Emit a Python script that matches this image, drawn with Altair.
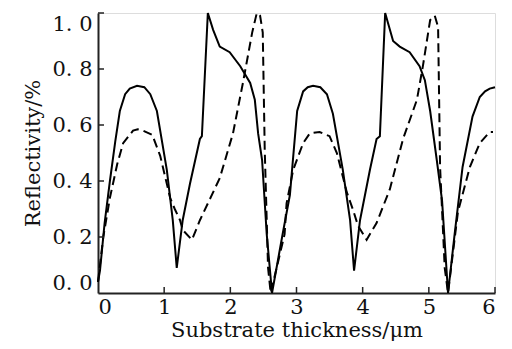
import altair as alt
import pandas as pd

# Solid curve
solid_t = [0.00, 0.03, 0.10, 0.18, 0.26, 0.33, 0.41, 0.48, 0.59, 0.70, 0.79, 0.89, 1.04, 1.13, 1.19,
           1.28, 1.39, 1.54, 1.57, 1.66, 1.74, 1.84, 1.99, 2.15, 2.30, 2.37, 2.42, 2.48, 2.55, 2.63,
           2.79, 2.90, 3.01, 3.10, 3.17, 3.25, 3.36, 3.46, 3.55, 3.70, 3.81, 3.87,
           3.96, 4.11, 4.21, 4.26, 4.34, 4.46, 4.56, 4.71, 4.86, 4.94, 5.02, 5.12, 5.20, 5.29,
           5.39, 5.51, 5.66, 5.77, 5.85, 5.92, 6.00]
solid_r = [0.04, 0.08, 0.25, 0.40, 0.54, 0.65, 0.71, 0.73, 0.74, 0.735, 0.71, 0.65, 0.44, 0.26, 0.09,
           0.26, 0.39, 0.55, 0.56, 1.00, 0.94, 0.88, 0.86, 0.81, 0.75, 0.69, 0.57, 0.475, 0.21, 0.00,
           0.21, 0.35, 0.65, 0.72, 0.735, 0.74, 0.735, 0.71, 0.64, 0.44, 0.26, 0.08,
           0.26, 0.44, 0.55, 0.56, 1.00, 0.90, 0.88, 0.86, 0.81, 0.76, 0.65, 0.475, 0.33, 0.00,
           0.21, 0.45, 0.63, 0.70, 0.72, 0.73, 0.735]

# Dashed curve
dash_t = [0.00, 0.03, 0.08, 0.18, 0.29, 0.38, 0.53, 0.60, 0.68, 0.82, 0.94, 1.09, 1.16, 1.24, 1.28,
          1.42, 1.54, 1.84, 2.04, 2.19, 2.33, 2.40, 2.45, 2.49, 2.52, 2.57, 2.61,
          2.82, 2.85, 2.95, 3.10, 3.20, 3.35, 3.50, 3.61, 3.76, 3.85, 3.93, 4.06,
          4.21, 4.41, 4.61, 4.82, 4.91, 5.02, 5.09, 5.14, 5.17, 5.24, 5.29,
          5.44, 5.62, 5.77, 5.92, 5.97]
dash_r = [0.04, 0.10, 0.20, 0.34, 0.46, 0.535, 0.58, 0.585, 0.58, 0.565, 0.49, 0.34, 0.30, 0.26, 0.225,
          0.19, 0.26, 0.41, 0.57, 0.75, 0.93, 1.00, 0.99, 0.93, 0.51, 0.09, 0.00,
          0.21, 0.32, 0.44, 0.535, 0.57, 0.575, 0.56, 0.50, 0.36, 0.30, 0.24, 0.19,
          0.25, 0.37, 0.55, 0.69, 0.81, 0.975, 0.99, 0.95, 0.45, 0.09, 0.00,
          0.29, 0.45, 0.535, 0.575, 0.575]

x_ticks = [1, 2, 3, 4, 5, 6]
y_ticks = [0.2, 0.4, 0.6, 0.8, 1.0]

FONT = "DejaVu Serif"
FS = 21

solid_df = pd.DataFrame({"t": solid_t, "r": solid_r})
dash_df = pd.DataFrame({"t": dash_t, "r": dash_r})

xscale = alt.Scale(domain=[0, 6], nice=False, zero=False)
yscale = alt.Scale(domain=[0, 1], nice=False)

xaxis = alt.Axis(values=[0, 1, 2, 3, 4, 5, 6], format="d", ticks=False, tickSize=0, grid=False,
                 domainColor="#222", domainWidth=2, labelFont=FONT, labelFontSize=FS,
                 labelColor="#111", labelPadding=3,
                 title="Substrate thickness/μm", titleFont=FONT, titleFontSize=FS,
                 titleFontWeight="normal", titleColor="#111", titlePadding=2)
yaxis = alt.Axis(values=[0, 0.2, 0.4, 0.6, 0.8, 1.0], ticks=False, tickSize=0, grid=False,
                 labelExpr="replace(format(datum.value, '.1f'), '.', '. ')",
                 labelFlush=True,
                 domainColor="#222", domainWidth=2, labelFont=FONT, labelFontSize=FS,
                 labelColor="#111", labelPadding=6,
                 title="Reflectivity/%", titleFont=FONT, titleFontSize=FS,
                 titleFontWeight="normal", titleColor="#111", titlePadding=8)

solid = alt.Chart(solid_df).mark_line(color="black", strokeWidth=2).encode(
    x=alt.X("t:Q", scale=xscale, axis=xaxis),
    y=alt.Y("r:Q", scale=yscale, axis=yaxis),
)
dashed = alt.Chart(dash_df).mark_line(color="black", strokeWidth=2, strokeDash=[9, 5]).encode(
    x=alt.X("t:Q", scale=xscale),
    y=alt.Y("r:Q", scale=yscale),
)

xt = alt.Chart(pd.DataFrame({"v": x_ticks})).mark_rule(color="#222", strokeWidth=1.5).encode(
    x=alt.X("v:Q", scale=xscale),
    y=alt.value(280), y2=alt.value(274),
)
yt = alt.Chart(pd.DataFrame({"v": y_ticks})).mark_rule(color="#222", strokeWidth=1.5).encode(
    y=alt.Y("v:Q", scale=yscale),
    x=alt.value(0), x2=alt.value(6),
)

chart = alt.layer(solid, dashed, xt, yt).properties(
    width=397, height=280,
    autosize=alt.AutoSizeParams(type="none"),
    padding={"left": 90, "top": 5, "right": 5, "bottom": 50},
).configure_view(stroke=None).configure(background="white")

chart.save("out.html", embed_options={"renderer": "svg", "actions": False})
